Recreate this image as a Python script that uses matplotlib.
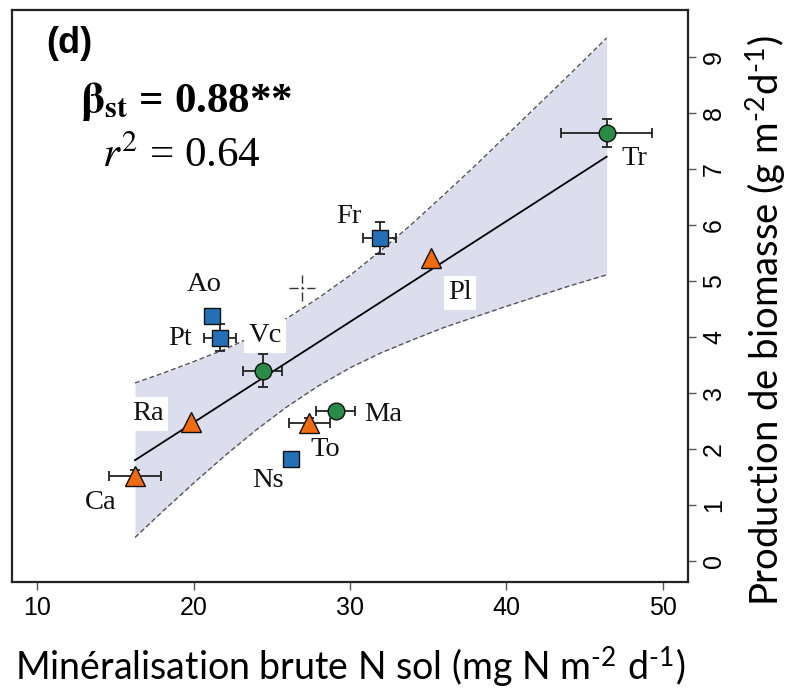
import numpy as np
import matplotlib
matplotlib.use('Agg')
import matplotlib.pyplot as plt

plt.rcParams['font.family'] = ['Liberation Sans', 'DejaVu Sans']
plt.rcParams['mathtext.fontset'] = 'stix'

# species: name, N mineralisation (x), biomass production (y), errors, group
names = ['Tr', 'Pl', 'Fr', 'Ao', 'Pt', 'Vc', 'Ra', 'Ca', 'Ns', 'To', 'Ma']
x_min = [46.4, 35.16, 31.9, 21.2, 21.7, 24.42, 19.82, 16.26, 26.23, 27.4, 29.09]
y_prod = [7.65, 5.41, 5.77, 4.38, 3.99, 3.40, 2.48, 1.52, 1.82, 2.46, 2.67]
x_err = [2.9, 0.0, 1.07, 0.0, 1.04, 1.26, 0.0, 1.63, 0.0, 1.3, 1.25]
y_err = [0.25, 0.0, 0.28, 0.0, 0.24, 0.30, 0.0, 0.1, 0.0, 0.1, 0.1]
groups = ['circle', 'tri', 'square', 'square', 'square', 'circle',
          'tri', 'tri', 'square', 'tri', 'circle']

# regression line end points and confidence band
fit_x = [16.26, 46.4]
fit_y = [1.80, 7.22]
band_x = [16.26, 18, 20, 22, 24, 26, 28, 30, 32, 34, 36, 38, 40, 42, 44, 46.4]
band_hi = [3.18, 3.35, 3.56, 3.78, 4.04, 4.34, 4.70, 5.10, 5.55, 6.03,
           6.54, 7.06, 7.60, 8.14, 8.68, 9.34]
band_lo = [0.42, 0.88, 1.39, 1.88, 2.34, 2.76, 3.13, 3.45, 3.72, 3.95,
           4.17, 4.36, 4.55, 4.73, 4.91, 5.11]

# centroid (dashed cross)
cross_x, cross_y = 26.93, 4.875

styles = {
    'circle': dict(marker='o', color='#2a8a48', ms=12),
    'tri': dict(marker='^', color='#f06a10', ms=15),
    'square': dict(marker='s', color='#2370b6', ms=11),
}

# label positions (data coords) and whether a white box is behind them
label_pos = {
    'Tr': (48.15, 7.18, False), 'Pl': (37.03, 4.79, True),
    'Fr': (29.94, 6.16, False), 'Ao': (20.67, 4.93, False),
    'Pt': (19.14, 3.98, False), 'Vc': (24.57, 4.02, True),
    'Ra': (17.09, 2.63, True), 'Ca': (14.09, 1.05, False),
    'Ns': (24.76, 1.43, False), 'To': (28.40, 2.00, False),
    'Ma': (32.11, 2.61, False),
}

fig = plt.figure(figsize=(7.87, 6.94), dpi=100)
ax = fig.add_axes([12 / 787, 1 - 582 / 694, 676 / 787, 572 / 694])

ax.fill_between(band_x, band_lo, band_hi, color='#dcdeee', lw=0, zorder=1)
ax.plot(band_x, band_hi, color='#555555', lw=1.0, ls=(0, (3.5, 2)), zorder=2)
ax.plot(band_x, band_lo, color='#555555', lw=1.0, ls=(0, (3.5, 2)), zorder=2)
ax.plot(fit_x, fit_y, color='black', lw=1.3, zorder=3)

# dashed cross
ax.plot([cross_x - 0.85, cross_x + 0.85], [cross_y, cross_y], color='#333333',
        lw=1, ls=(0, (6.5, 2.2, 1.9, 2.2, 6.5, 20)), zorder=3)
ax.plot([cross_x, cross_x], [cross_y - 0.24, cross_y + 0.24], color='#333333',
        lw=1, ls=(0, (6.5, 2.2, 1.9, 2.2, 6.5, 20)), zorder=3)

for i, n in enumerate(names):
    ax.errorbar(x_min[i], y_prod[i], xerr=x_err[i], yerr=y_err[i], fmt='none',
                ecolor='#222222', elinewidth=1.3, capsize=3.5, capthick=1.3,
                zorder=4)
    st = styles[groups[i]]
    ax.plot(x_min[i], y_prod[i], marker=st['marker'], ms=st['ms'],
            mfc=st['color'], mec='#111111', mew=1.0, ls='none', zorder=6)
    lx, ly, boxed = label_pos[n]
    kw = {}
    if boxed:
        kw['bbox'] = dict(facecolor='white', edgecolor='none', pad=3)
    ax.text(lx, ly, n, family='Liberation Serif', fontsize=20.5, ha='center',
            va='center', color='#111111', zorder=5, **kw)

ax.set_xlim(8.4, 51.6)
ax.set_ylim(-0.375, 9.84)
ax.set_xticks([10, 20, 30, 40, 50])
ax.set_yticks(range(10))

ax.yaxis.tick_right()
ax.yaxis.set_label_position('right')
ax.tick_params(axis='both', labelsize=18, length=6, width=1, color='#555555')
ax.tick_params(axis='x', pad=4)
ax.tick_params(axis='y', pad=4)
for lab in ax.get_yticklabels():
    lab.set_rotation(90)
    lab.set_va('center')
for sp in ax.spines.values():
    sp.set_linewidth(1.6)
    sp.set_color('#222222')

ax.set_xlabel('Minéralisation brute N sol (mg N m$^{\\mathregular{\u20102}}$ d$^{\\mathregular{\u20101}}$)',
              fontsize=27, family=['Lato', 'DejaVu Sans'])
ax.xaxis.set_label_coords(0.5, -0.108)
ax.set_ylabel('Production de biomasse (g m$^{\\mathregular{\u20102}}$d$^{\\mathregular{\u20101}}$)',
              fontsize=27.5, family=['Lato', 'DejaVu Sans'], rotation=90, va='center')
ax.yaxis.set_label_coords(1.114, 0.458)

ax.text(0.0843, 0.9406, '(d)', transform=ax.transAxes, fontsize=26,
        fontweight='bold', ha='center', va='center')
ax.text(0.1006, 0.8217, r'$\mathbf{\beta}_{\mathbf{st}}$ = 0.88**', transform=ax.transAxes,
        fontsize=31, fontweight='bold', family='Liberation Serif', va='baseline')
ax.text(0.133, 0.7255, r'$r^{2}$ = 0.64', transform=ax.transAxes,
        fontsize=31, family='Liberation Serif', va='baseline')

fig.savefig('out.png', dpi=100)
